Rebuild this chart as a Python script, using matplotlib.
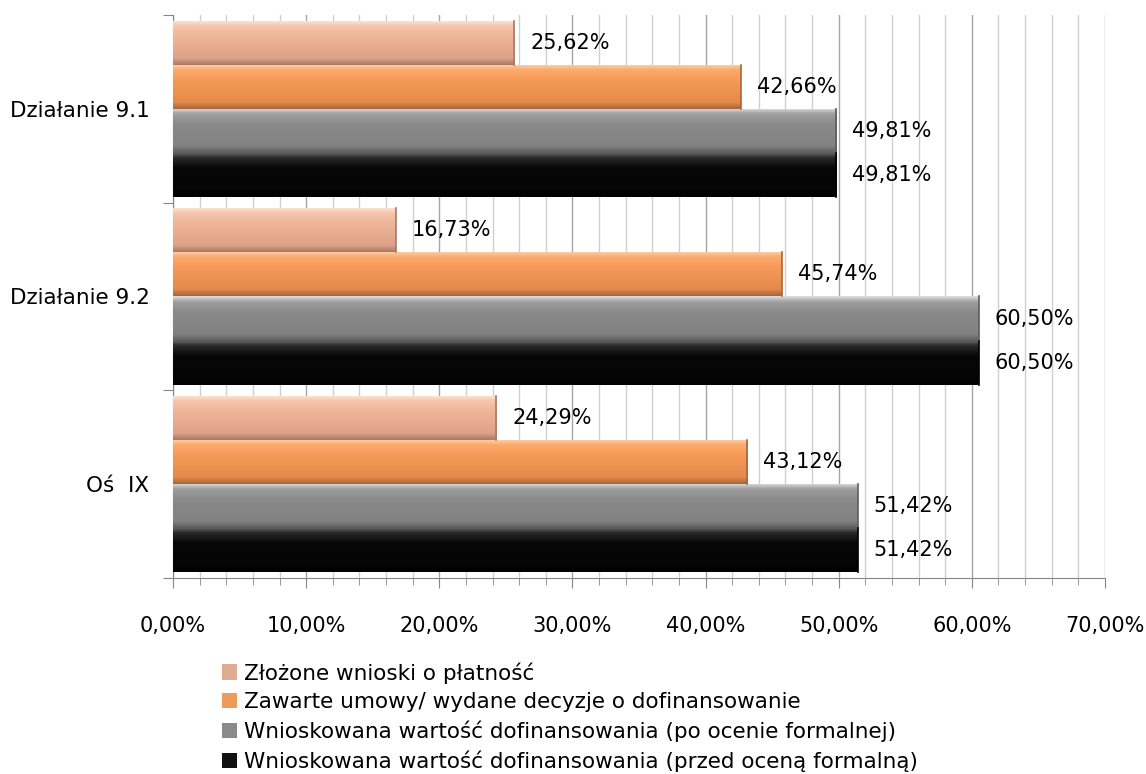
import numpy as np
import matplotlib
matplotlib.use("Agg")
import matplotlib.pyplot as plt
from matplotlib.patches import Patch
from matplotlib.colors import LinearSegmentedColormap
from matplotlib.ticker import MultipleLocator, FuncFormatter

plt.rcParams['font.family'] = ['DejaVu Sans']
FS = 15
FS_BIG = 15.5

categories = ["Oś  IX", "Działanie 9.2", "Działanie 9.1"]
series_names = [
    "Złożone wnioski o płatność",
    "Zawarte umowy/ wydane decyzje o dofinansowanie",
    "Wnioskowana wartość dofinansowania (po ocenie formalnej)",
    "Wnioskowana wartość dofinansowania (przed oceną formalną)",
]
# values per series, in order of categories (Oś IX, 9.2, 9.1)
zlozone = [24.29, 16.73, 25.62]
zawarte = [43.12, 45.74, 42.66]
po_ocenie = [51.42, 60.50, 49.81]
przed_ocena = [51.42, 60.50, 49.81]
values = [zlozone, zawarte, po_ocenie, przed_ocena]

# gradient stops (top -> bottom) for the bevelled bars
grads = [
    ["#fde6d6", "#f6c7ad", "#efb698", "#dda288", "#a87a66"],
    ["#fed3ad", "#fbab6e", "#f79a58", "#e48a4c", "#a9663a"],
    ["#e0e0e0", "#a0a0a0", "#8a8a8a", "#828282", "#5c5c5c"],
    ["#6a6a6a", "#2a2a2a", "#070707", "#050505", "#000000"],
]
legend_colors = ["#e0ab93", "#ef9a5a", "#8a8a8a", "#111111"]

fig = plt.figure(figsize=(11.46, 7.74), dpi=100)
ax = fig.add_axes([173 / 1146, 1 - 578 / 774, 932 / 1146, 563 / 774])

bar_h = 0.235
offsets = [1.5 * bar_h, 0.5 * bar_h, -0.5 * bar_h, -1.5 * bar_h]
y = np.arange(len(categories))

ax.set_xlim(0, 70)
ax.set_ylim(-0.5, 2.5)

for vals, off, g in zip(values, offsets, grads):
    bars = ax.barh(y + off, vals, height=bar_h, color=g[2], edgecolor="none", zorder=3)
    cmap = LinearSegmentedColormap.from_list("g", list(zip([0, 0.12, 0.35, 0.85, 1.0], g)))
    grad = np.linspace(0, 1, 100).reshape(-1, 1)
    for b, v in zip(bars, vals):
        x0, y0 = b.get_x(), b.get_y()
        w, h = b.get_width(), b.get_height()
        im = ax.imshow(grad, cmap=cmap, extent=[x0, x0 + w, y0, y0 + h],
                       aspect="auto", origin="upper", zorder=4, interpolation="bilinear")
        im.set_clip_path(b)
        # darker right end for a bit of bevel
        ax.plot([x0 + w, x0 + w], [y0, y0 + h], color=g[4], lw=1.2, zorder=5)
        ax.text(v + 1.2, y0 + h / 2, f"{v:.2f}%".replace(".", ","),
                va="center", ha="left", fontsize=FS, zorder=6)

ax.set_xlim(0, 70)
ax.set_ylim(-0.5, 2.5)

# grid
ax.xaxis.set_major_locator(MultipleLocator(10))
ax.xaxis.set_minor_locator(MultipleLocator(2))
ax.grid(axis="x", which="minor", color="#d0d0d0", lw=1, zorder=0)
ax.grid(axis="x", which="major", color="#a6a6a6", lw=1, zorder=0)
ax.xaxis.set_major_formatter(FuncFormatter(lambda v, p: f"{v:.2f}%".replace(".", ",")))
ax.tick_params(axis="x", which="major", length=7, color="#868686", pad=20, labelsize=FS)
ax.tick_params(axis="x", which="minor", length=5, color="#868686")

ax.set_yticks([-0.5, 0.5, 1.5, 2.5])
ax.set_yticklabels([])
ax.set_yticks(y, minor=True)
ax.set_yticklabels(categories, minor=True, fontsize=FS_BIG)
ax.tick_params(axis="y", which="major", length=7, color="#868686")
ax.tick_params(axis="y", which="minor", length=0, pad=17)

for s in ["top", "right"]:
    ax.spines[s].set_visible(False)
ax.spines["left"].set_color("#868686")
ax.spines["bottom"].set_color("#868686")

handles = [Patch(facecolor=c, edgecolor="none") for c in legend_colors]
fig.legend(handles, series_names, loc="upper left", bbox_to_anchor=(222 / 1146, 1 - 662 / 774),
           frameon=False, fontsize=FS_BIG, handlelength=0.7, handleheight=0.7,
           handletextpad=0.3, labelspacing=0.4, borderpad=0, borderaxespad=0)

fig.savefig("out.png", dpi=100)
